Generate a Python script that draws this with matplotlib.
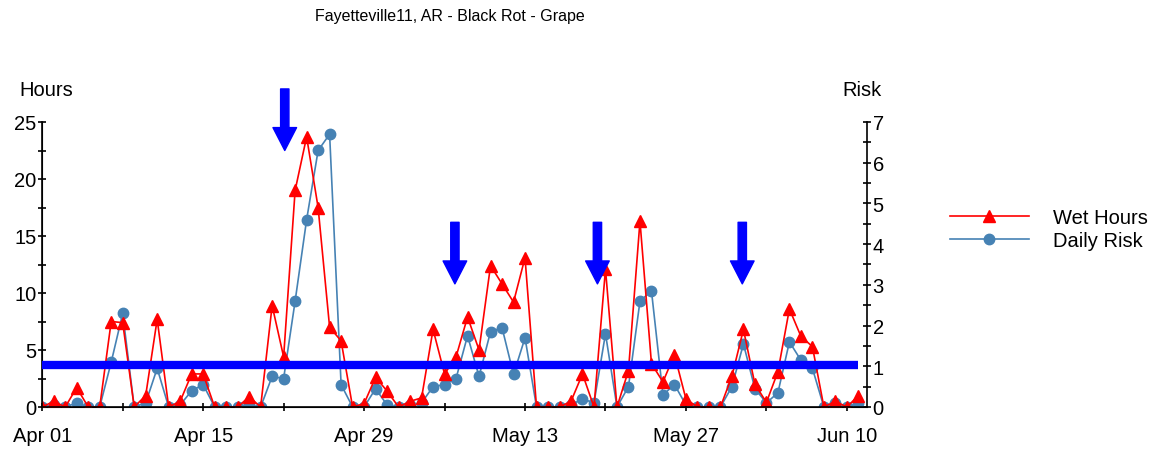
import numpy as np
import pandas as pd
import matplotlib
matplotlib.use("Agg")
import matplotlib.pyplot as plt

plt.rcParams['font.family'] = ['Liberation Sans', 'DejaVu Sans']

# daily values, Apr 01 .. Jun 11
dates = pd.date_range("2011-04-01", periods=72, freq="D")
wet_hours = [0, 0.5, 0, 1.7, 0, 0, 7.5, 7.4, 0, 1.0,
             7.7, 0, 0.5, 2.9, 2.9, 0, 0, 0, 0.9, 0,
             8.9, 4.4, 19.0, 23.7, 17.5, 7.0, 5.8, 0, 0.3, 2.6,
             1.4, 0, 0.5, 0.8, 6.8, 2.9, 4.4, 7.9, 5.0, 12.4,
             10.8, 9.2, 13.1, 0, 0, 0, 0.5, 2.9, 0, 12.1,
             0, 3.2, 16.3, 3.8, 2.2, 4.6, 0.7, 0, 0, 0,
             2.7, 6.8, 2.0, 0.4, 3.1, 8.6, 6.2, 5.3, 0, 0.5,
             0, 1.0]
daily_risk = [0, 0.05, 0, 0.1, 0, 0, 1.1, 2.3, 0, 0.1,
              0.95, 0, 0.05, 0.4, 0.55, 0, 0, 0, 0.05, 0,
              0.75, 0.7, 2.6, 4.6, 6.3, 6.7, 0.55, 0, 0, 0.45,
              0.05, 0, 0.05, 0.1, 0.5, 0.55, 0.7, 1.75, 0.75, 1.85,
              1.95, 0.8, 1.7, 0, 0, 0, 0.05, 0.2, 0.1, 1.8,
              0, 0.5, 2.6, 2.85, 0.3, 0.55, 0.05, 0, 0, 0,
              0.5, 1.55, 0.45, 0.1, 0.35, 1.6, 1.15, 0.95, 0, 0.1,
              0, 0.1]
risk_threshold = 1.03
# spray markers (day offset from Apr 01, arrow top, arrow tip) in hours
arrow_days = [21.1, 35.9, 48.3, 60.9]
arrow_top = [27.9, 16.2, 16.2, 16.2]
arrow_tip = [22.5, 10.8, 10.8, 10.8]

fig = plt.figure(figsize=(11.6, 4.52), dpi=100)
ax = fig.add_axes([42/1160, 1-408/452, (867-42)/1160, (408-123)/452])
ax2 = ax.twinx()
ax.set_zorder(ax2.get_zorder() + 1)
ax.patch.set_visible(False)

ax2.plot(dates, daily_risk, color='#4682b4', lw=1.2, marker='o', ms=7.5,
         label='Daily Risk')
ax.plot(dates, wet_hours, color='#ff0000', lw=1.2, marker='^', ms=8,
        label='Wet Hours')

t0 = dates[0]
ax.hlines(risk_threshold * 25 / 7, dates[0], dates[-1], color='#0000ff',
          lw=6, zorder=5)
for d, top, tip in zip(arrow_days, arrow_top, arrow_tip):
    x = t0 + pd.Timedelta(days=d)
    ax.annotate('', xy=(x, tip), xytext=(x, top), annotation_clip=False,
                arrowprops=dict(arrowstyle='simple,head_width=17,head_length=16.5,tail_width=6',
                                mutation_scale=1, color='#0000ff',
                                shrinkA=0, shrinkB=0), zorder=6)

x0 = t0 - pd.Timedelta(days=0.02)
x1 = t0 + pd.Timedelta(days=71.75)
ax.set_xlim(x0, x1)
ax.set_ylim(0, 25)
ax2.set_ylim(0, 7)

ax.set_xticks(dates[::14])
ax.set_xticklabels([d.strftime('%b %d') for d in dates[::14]])
ax.set_xticks(dates[7::14], minor=True)
ax.set_yticks(np.arange(0, 26, 5))
ax.set_yticks(np.arange(0, 25.1, 2.5), minor=True)
ax2.set_yticks(np.arange(0, 8, 1))
ax2.set_yticks(np.arange(0, 7.1, 0.5), minor=True)

for a in (ax, ax2):
    a.spines['top'].set_visible(False)
    a.tick_params(which='both', direction='inout', length=6, width=1.2,
                  labelsize=14.5, colors='black')
ax.spines['right'].set_visible(False)
ax.tick_params(axis='y', pad=1)
ax2.tick_params(axis='y', pad=1)
ax.tick_params(axis='x', pad=11)
for s in ('left', 'bottom'):
    ax.spines[s].set_linewidth(1.2)
ax2.spines['right'].set_linewidth(1.2)

fig.text(450/1160, 1-17/452, 'Fayetteville11, AR - Black Rot - Grape',
         ha='center', va='center', fontsize=11.5)
fig.text(46/1160, 1-90/452, 'Hours', ha='center', va='center', fontsize=14.5)
fig.text(862/1160, 1-90/452, 'Risk', ha='center', va='center', fontsize=14.5)

h1, l1 = ax.get_legend_handles_labels()
h2, l2 = ax2.get_legend_handles_labels()
fig.legend(h1 + h2, l1 + l2, loc='center left',
           bbox_to_anchor=(950/1160, 1-230/452), frameon=False,
           fontsize=14.5, handlelength=3.9, handletextpad=1.2,
           labelspacing=0.2, borderpad=0, borderaxespad=0)

fig.savefig('out.png', dpi=100)
